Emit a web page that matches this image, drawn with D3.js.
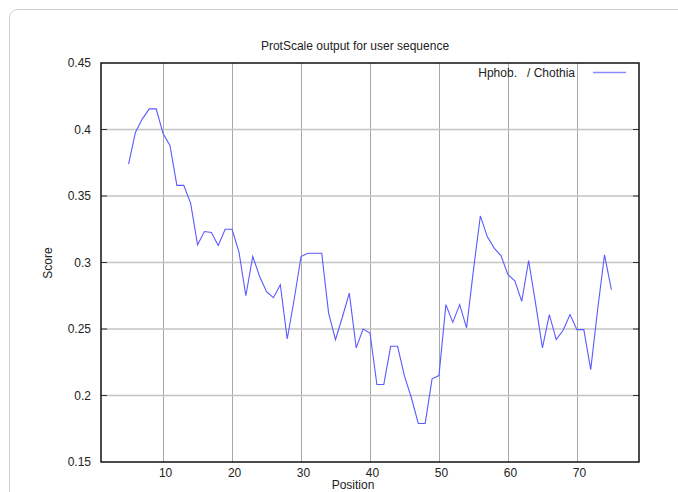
<!DOCTYPE html>
<html>
<head>
<meta charset="utf-8">
<script src="https://cdn.jsdelivr.net/npm/d3@7"></script>
<style>
  html, body { margin: 0; padding: 0; background: #fff; }
  svg { display: block; font-family: "Liberation Sans", Arial, sans-serif; }
</style>
</head>
<body>
<svg id="chart" width="678" height="492"></svg>
<script>
// ProtScale window averages, positions 5..75
const positions = d3.range(5, 76);
const scores = [
  0.374, 0.398, 0.408, 0.4155, 0.4155, 0.397, 0.388, 0.358, 0.358, 0.3445,
  0.3133, 0.3233, 0.3225, 0.3128, 0.325, 0.325, 0.308, 0.275, 0.3045, 0.2895,
  0.278, 0.2735, 0.2833, 0.2425, 0.272, 0.3045, 0.307, 0.307, 0.307, 0.262,
  0.242, 0.259, 0.277, 0.2358, 0.25, 0.247, 0.2083, 0.2083, 0.237, 0.237,
  0.2145, 0.1983, 0.179, 0.179, 0.2125, 0.215, 0.2683, 0.255, 0.2683, 0.2508,
  0.2945, 0.335, 0.3195, 0.3108, 0.305, 0.2908, 0.2863, 0.2708, 0.3015, 0.2695,
  0.2358, 0.2608, 0.242, 0.249, 0.2608, 0.2495, 0.2495, 0.2195, 0.2645, 0.3058,
  0.2795
];
const xTicks = [10, 20, 30, 40, 50, 60, 70];
const yTicks = [0.15, 0.2, 0.25, 0.3, 0.35, 0.4, 0.45];
const seriesName = 'Hphob.   / Chothia';

const svg = d3.select('#chart');

// card frame behind the plot
svg.append('rect')
  .attr('x', 9.5).attr('y', 9.5)
  .attr('width', 720).attr('height', 540)
  .attr('rx', 8)
  .attr('fill', 'none')
  .attr('stroke', '#cfcfcf');

const plot = { left: 101, right: 639, top: 63, bottom: 462 };

const x = d3.scaleLinear().domain([1, 79]).range([plot.left, plot.right]);
const y = d3.scaleLinear().domain([0.15, 0.45]).range([plot.bottom, plot.top]);

// grid
svg.append('g')
  .selectAll('line')
  .data(xTicks)
  .join('line')
  .attr('x1', d => Math.round(x(d)) + 0.5).attr('x2', d => Math.round(x(d)) + 0.5)
  .attr('y1', plot.top).attr('y2', plot.bottom)
  .attr('stroke', '#a8a8a8');

svg.append('g')
  .selectAll('line')
  .data(yTicks.slice(1, -1))
  .join('line')
  .attr('x1', plot.left).attr('x2', plot.right)
  .attr('y1', d => y(d)).attr('y2', d => y(d))
  .attr('stroke', '#c4c4c4')
  .attr('stroke-width', 1.5);

// axes
const fmt = d => String(+d.toFixed(2));
const yAxis = svg.append('g')
  .attr('transform', `translate(${plot.left},0)`)
  .call(d3.axisLeft(y).tickValues(yTicks).tickFormat(fmt).tickSize(0).tickPadding(10));
const xAxis = svg.append('g')
  .attr('transform', `translate(0,${plot.bottom})`)
  .call(d3.axisBottom(x).tickValues(xTicks).tickSize(0).tickPadding(6));

[yAxis, xAxis].forEach(g => {
  g.select('.domain').remove();
  g.selectAll('text')
    .attr('font-size', 12)
    .attr('font-family', '"Liberation Sans", Arial, sans-serif')
    .attr('fill', '#222');
});
xAxis.selectAll('text').attr('dx', 2);

// inward tick marks on left and right
svg.append('g')
  .selectAll('path')
  .data(yTicks.slice(1, -1))
  .join('path')
  .attr('d', d => `M${plot.left},${y(d)}h6M${plot.right},${y(d)}h-6`)
  .attr('stroke', '#333');

// border box
svg.append('rect')
  .attr('x', plot.left).attr('y', plot.top)
  .attr('width', plot.right - plot.left).attr('height', plot.bottom - plot.top)
  .attr('fill', 'none')
  .attr('stroke', '#111')
  .attr('stroke-width', 1.5);

// series
const line = d3.line()
  .x((d, i) => x(positions[i]))
  .y(d => y(d));

svg.append('path')
  .datum(scores)
  .attr('d', line)
  .attr('fill', 'none')
  .attr('stroke', '#5a5aff')
  .attr('stroke-width', 1.1);

// legend
svg.append('text')
  .attr('x', 575).attr('y', 77)
  .attr('text-anchor', 'end')
  .attr('font-size', 12)
  .attr('fill', '#222')
  .style('white-space', 'pre')
  .text(seriesName);
svg.append('line')
  .attr('x1', 593).attr('x2', 626)
  .attr('y1', 72.5).attr('y2', 72.5)
  .attr('stroke', '#8a8aff')
  .attr('stroke-width', 1.5);

// title and axis labels
svg.append('text')
  .attr('x', 355).attr('y', 50)
  .attr('text-anchor', 'middle')
  .attr('font-size', 12)
  .attr('fill', '#222')
  .text('ProtScale output for user sequence');

svg.append('text')
  .attr('x', 353).attr('y', 489)
  .attr('text-anchor', 'middle')
  .attr('font-size', 12)
  .attr('fill', '#222')
  .text('Position');

svg.append('text')
  .attr('transform', 'translate(52,263) rotate(-90)')
  .attr('text-anchor', 'middle')
  .attr('font-size', 12)
  .attr('fill', '#222')
  .text('Score');
</script>
</body>
</html>
